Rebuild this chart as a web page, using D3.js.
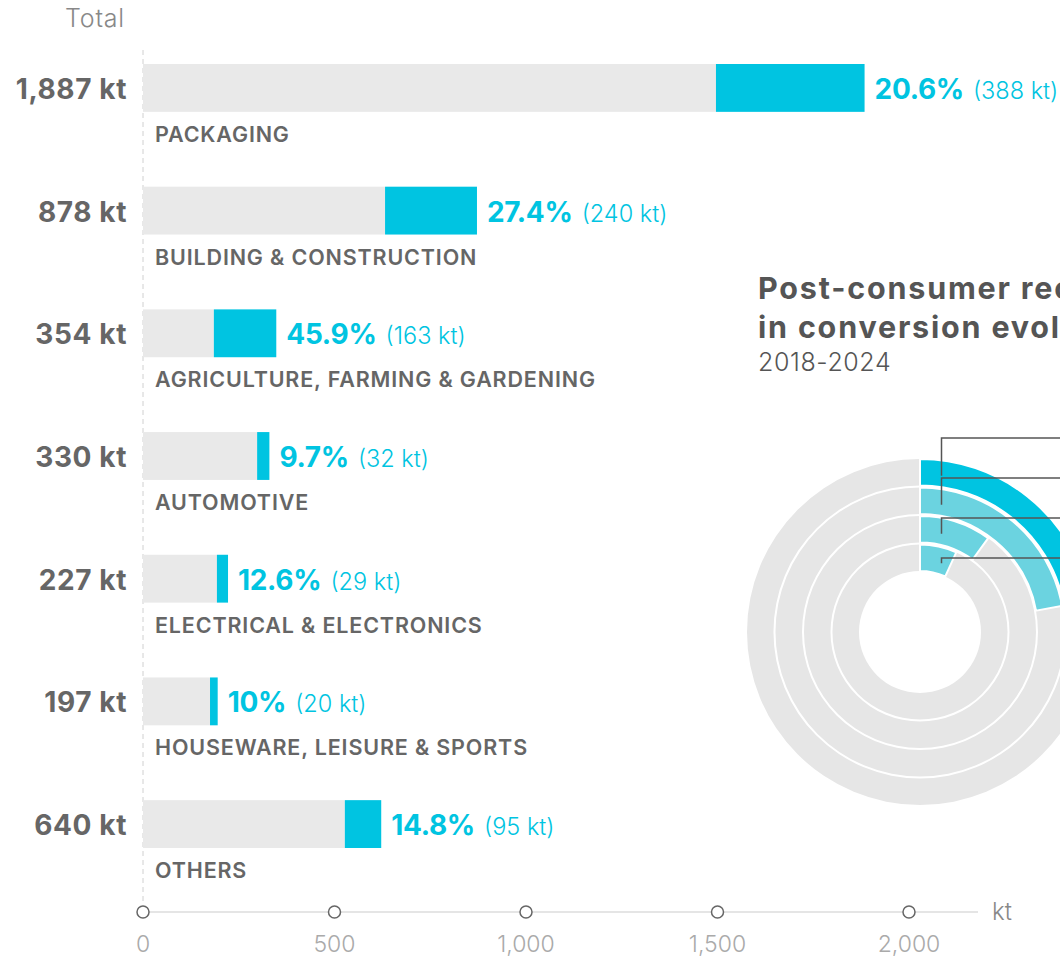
<!DOCTYPE html>
<html>
<head>
<meta charset="utf-8">
<script src="https://cdn.jsdelivr.net/npm/d3@7"></script>
<style>
  html, body { margin: 0; padding: 0; background: #fff; overflow: hidden; }
  svg { display: block; }
  text { font-family: Inter, "Open Sans", sans-serif; }
</style>
</head>
<body>
<svg id="chart" width="1060" height="958"></svg>
<script>
// ---------- data ----------
const categories = [
  "PACKAGING",
  "BUILDING & CONSTRUCTION",
  "AGRICULTURE, FARMING & GARDENING",
  "AUTOMOTIVE",
  "ELECTRICAL & ELECTRONICS",
  "HOUSEWARE, LEISURE & SPORTS",
  "OTHERS"
];
const totals   = [1887, 878, 354, 330, 227, 197, 640];      // kt (labels)
const virgin   = [1496, 632, 185, 298, 193, 175, 527];      // kt (grey part of bar)
const recycled = [388, 240, 163, 32, 29, 20, 95];           // kt (cyan part)
const shares   = ["20.6%", "27.4%", "45.9%", "9.7%", "12.6%", "10%", "14.8%"];
const xTicks   = [0, 500, 1000, 1500, 2000];

const years      = ["2018", "2020", "2022", "2024"];          // inner -> outer
const yearShares = [6.8, 10.0, 22.1, 21.4];                  // % post-consumer recyclates

// ---------- styles ----------
const CYAN = "#00c4e1", CYAN_LIGHT = "#6bd3e0", GREY = "#e9e9e9", TXT = "#666";

const svg = d3.select("#chart");

// ---------- scales ----------
const x = d3.scaleLinear().domain([0, 2000]).range([143, 909]);
const y = d3.scaleBand().domain(categories).range([64, 848]).paddingInner(0.61);

// vertical dashed baseline
svg.append("line")
  .attr("x1", x(0)).attr("x2", x(0)).attr("y1", 50).attr("y2", 905)
  .attr("stroke", "#d0d0d0").attr("stroke-width", 1).attr("stroke-dasharray", "5,4");

svg.append("text").attr("x", 125).attr("y", 27).attr("text-anchor", "end")
  .attr("font-size", 25).attr("font-weight", 300).attr("fill", "#888")
  .attr("letter-spacing", 0.8).text("Total");

const rows = svg.append("g").selectAll("g").data(categories).join("g");

rows.append("rect")
  .attr("x", x(0)).attr("y", d => y(d))
  .attr("width", (d, i) => x(virgin[i]) - x(0))
  .attr("height", y.bandwidth()).attr("fill", GREY);

rows.append("rect")
  .attr("x", (d, i) => x(virgin[i])).attr("y", d => y(d))
  .attr("width", (d, i) => x(virgin[i] + recycled[i]) - x(virgin[i]))
  .attr("height", y.bandwidth()).attr("fill", CYAN);

rows.append("text")
  .attr("x", 127).attr("y", d => y(d) + y.bandwidth() / 2 + 11)
  .attr("text-anchor", "end").attr("font-size", 28).attr("font-weight", 700)
  .attr("fill", TXT).attr("letter-spacing", 0.6)
  .text((d, i) => d3.format(",")(totals[i]) + " kt");

rows.append("text")
  .attr("x", 155).attr("y", d => y(d) + y.bandwidth() + 30)
  .attr("font-size", 21.5).attr("font-weight", 600).attr("fill", TXT)
  .attr("letter-spacing", 0.85)
  .text(d => d);

const val = rows.append("text")
  .attr("x", (d, i) => x(virgin[i] + recycled[i]) + 10)
  .attr("y", d => y(d) + y.bandwidth() / 2 + 11)
  .attr("fill", CYAN);
val.append("tspan").attr("font-size", 28).attr("font-weight", 700).attr("letter-spacing", -0.3)
  .text((d, i) => shares[i]);
val.append("tspan").attr("font-size", 23.5).attr("font-weight", 300).attr("dx", 9)
  .text((d, i) => "(" + recycled[i] + " kt)");

// ---------- x axis ----------
const axisY = 912;
svg.append("line").attr("x1", x(0)).attr("x2", 978).attr("y1", axisY).attr("y2", axisY)
  .attr("stroke", "#dcdcdc").attr("stroke-width", 1.5);
const ticks = svg.append("g").selectAll("g").data(xTicks).join("g")
  .attr("transform", d => `translate(${x(d)},${axisY})`);
ticks.append("circle").attr("r", 6).attr("fill", "#fff").attr("stroke", "#666").attr("stroke-width", 1.5);
ticks.append("text").attr("y", 40).attr("text-anchor", "middle")
  .attr("font-size", 23).attr("font-weight", 300).attr("fill", "#aaa")
  .text(d => d3.format(",")(d));
svg.append("text").attr("x", 992).attr("y", axisY + 8).attr("font-size", 24)
  .attr("font-weight", 300).attr("fill", "#888").text("kt");

// ---------- radial chart ----------
const cx = 920, cy = 632;
svg.append("text").attr("x", 758).attr("y", 299).attr("font-size", 30.5).attr("font-weight", 700)
  .attr("fill", "#555").attr("letter-spacing", 1.8).text("Post-consumer recyclates");
svg.append("text").attr("x", 758).attr("y", 338).attr("font-size", 30.5).attr("font-weight", 700)
  .attr("fill", "#555").attr("letter-spacing", 1.8).text("in conversion evolution");
svg.append("text").attr("x", 758).attr("y", 371).attr("font-size", 25).attr("font-weight", 300)
  .attr("fill", "#555").attr("letter-spacing", 0.6).text("2018-2024");

const r = d3.scaleBand().domain(years).range([61, 173]).paddingInner(0.07);
const ang = d3.scaleLinear().domain([0, 100]).range([0, 2 * Math.PI]);
const arc = d3.arc();
const radial = svg.append("g").attr("transform", `translate(${cx},${cy})`);

radial.selectAll("path.bg").data(years).join("path").attr("class", "bg")
  .attr("d", d => arc({innerRadius: r(d), outerRadius: r(d) + r.bandwidth(), startAngle: 0, endAngle: 2 * Math.PI}))
  .attr("fill", "#e6e6e6");
radial.selectAll("path.fg").data(years).join("path").attr("class", "fg")
  .attr("d", (d, i) => arc({innerRadius: r(d), outerRadius: r(d) + r.bandwidth(), startAngle: 0, endAngle: ang(yearShares[i])}))
  .attr("fill", (d, i) => i === years.length - 1 ? CYAN : CYAN_LIGHT)
  .attr("stroke", "#fff").attr("stroke-width", 2);

// leader lines to the (off-canvas) labels
const labelY = d3.scalePoint().domain(years.slice().reverse()).range([438, 558]);
const lx = 941.5;
svg.append("g").selectAll("path").data(years).join("path")
  .attr("d", d => {
    const rm = r(d) + r.bandwidth() * 0.42;
    const yEnd = cy - Math.sqrt(rm * rm - (lx - cx) * (lx - cx));
    return `M${lx},${yEnd}V${labelY(d)}H1080`;
  })
  .attr("fill", "none").attr("stroke", "#555").attr("stroke-width", 1.5);
</script>
</body>
</html>
